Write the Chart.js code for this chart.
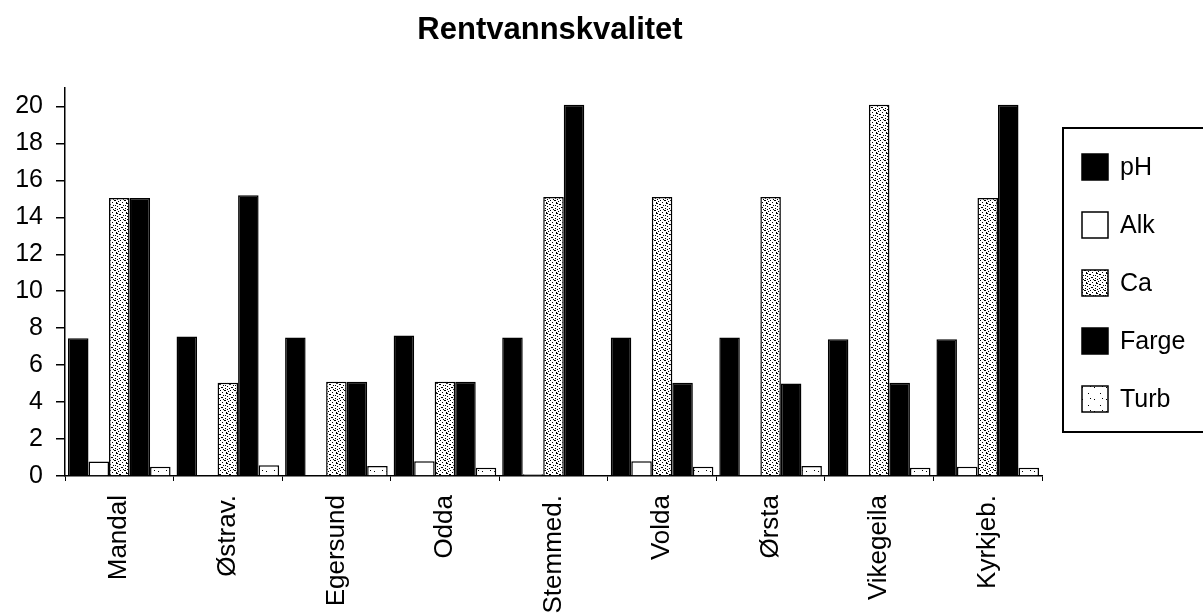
<!DOCTYPE html>
<html>
<head>
<meta charset="utf-8">
<title>Rentvannskvalitet</title>
<script src="https://cdn.jsdelivr.net/npm/chart.js@4.4.1/dist/chart.umd.min.js"></script>
<style>
  html, body { margin: 0; padding: 0; background: #fff; }
  #wrap { width: 1203px; height: 616px; position: relative; }
</style>
</head>
<body>
<div id="wrap"><canvas id="waterChart"></canvas></div>
<script>
const places = ['Mandal', 'Østrav.', 'Egersund', 'Odda', 'Stemmed.', 'Volda', 'Ørsta', 'Vikegeila', 'Kyrkjeb.'];
const phValues    = [7.45, 7.55, 7.5, 7.6, 7.5, 7.5, 7.5, 7.4, 7.4];
const alkValues   = [0.78, 0, 0, 0.8, 0.1, 0.8, 0, 0, 0.5];
const caValues    = [15.05, 5.05, 5.1, 5.1, 15.1, 15.1, 15.1, 20.1, 15.05];
const fargeValues = [15.05, 15.2, 5.1, 5.1, 20.1, 5.05, 5.0, 5.05, 20.1];
const turbValues  = [0.5, 0.58, 0.54, 0.45, 0, 0.5, 0.54, 0.45, 0.45];
const yTicks = [0, 2, 4, 6, 8, 10, 12, 14, 16, 18, 20];

const FONT = '"Liberation Sans", Arial, Helvetica, sans-serif';
const ctx = document.getElementById('waterChart').getContext('2d');

// small stipple tiles for the shaded series
function stipple(size, dots) {
    const tile = document.createElement('canvas');
    tile.width = size;
    tile.height = size;
    const g = tile.getContext('2d');
    g.fillStyle = '#fff';
    g.fillRect(0, 0, size, size);
    g.fillStyle = '#000';
    dots.forEach(d => g.fillRect(d[0], d[1], d[2] || 1, 1));
    return ctx.createPattern(tile, 'repeat');
}

const caFill = stipple(10, [
    [0, 0], [4, 0, 2], [8, 1], [2, 2], [6, 2], [6, 3, 2], [0, 4], [9, 4],
    [3, 5], [5, 5], [7, 6], [1, 7, 2], [5, 8], [9, 8], [3, 9], [7, 9]
]);
const turbFill = stipple(12, [[2, 3], [8, 9], [10, 2]]);

// title drawn left of the canvas centre, over the plot
const titlePlugin = {
    id: 'titlePlugin',
    afterDraw(chart) {
        const c = chart.ctx;
        c.save();
        c.fillStyle = '#000';
        c.font = 'bold 31px ' + FONT;
        c.textAlign = 'center';
        c.textBaseline = 'alphabetic';
        c.fillText('Rentvannskvalitet', 550, 39);
        c.restore();
    }
};

// boxed legend on the right, open towards the edge
const sideLegend = {
    id: 'sideLegend',
    afterDraw(chart) {
        const c = chart.ctx;
        c.save();
        c.strokeStyle = '#000';
        c.lineWidth = 2;
        c.beginPath();
        c.moveTo(1210, 128);
        c.lineTo(1063, 128);
        c.lineTo(1063, 432);
        c.lineTo(1210, 432);
        c.stroke();
        chart.data.datasets.forEach((ds, i) => {
            const y = 167 + i * 58;
            c.fillStyle = ds.backgroundColor;
            c.fillRect(1082, y - 13, 26, 26);
            c.lineWidth = 1.5;
            c.strokeRect(1082, y - 13, 26, 26);
            c.fillStyle = '#000';
            c.font = '25px ' + FONT;
            c.textAlign = 'left';
            c.textBaseline = 'middle';
            c.fillText(ds.label, 1120, y + 1);
        });
        c.restore();
    }
};

function series(label, data, fill) {
    return {
        label: label,
        data: data,
        backgroundColor: fill,
        borderColor: '#000',
        borderWidth: 1.5,
        categoryPercentage: 0.945,
        barPercentage: 1
    };
}

new Chart(ctx, {
    type: 'bar',
    data: {
        labels: places,
        datasets: [
            series('pH', phValues, '#000'),
            series('Alk', alkValues, '#fff'),
            series('Ca', caValues, caFill),
            series('Farge', fargeValues, '#000'),
            series('Turb', turbValues, turbFill)
        ]
    },
    plugins: [titlePlugin, sideLegend],
    options: {
        responsive: true,
        maintainAspectRatio: false,
        animation: false,
        layout: {
            padding: { top: 88, right: 161, left: 0, bottom: 0 }
        },
        plugins: {
            legend: { display: false },
            title: { display: false },
            tooltip: { enabled: false }
        },
        scales: {
            y: {
                min: 0,
                max: 21,
                afterFit(scale) { scale.width = 65; },
                afterBuildTicks(scale) {
                    scale.ticks = yTicks.map(v => ({ value: v }));
                },
                ticks: {
                    color: '#000',
                    padding: 13,
                    font: { family: FONT, size: 25 }
                },
                grid: {
                    drawOnChartArea: false,
                    drawTicks: true,
                    tickLength: 9,
                    color: '#000',
                    lineWidth: 1.5
                },
                border: { display: true, color: '#000', width: 1.5 }
            },
            x: {
                afterFit(scale) { scale.height = 140; },
                ticks: {
                    color: '#000',
                    autoSkip: false,
                    minRotation: 90,
                    maxRotation: 90,
                    padding: 14,
                    font: { family: FONT, size: 26 }
                },
                grid: {
                    drawOnChartArea: false,
                    drawTicks: true,
                    tickLength: 5,
                    color: '#000',
                    lineWidth: 1
                },
                border: { display: true, color: '#000', width: 1.5 }
            }
        }
    }
});
</script>
</body>
</html>
